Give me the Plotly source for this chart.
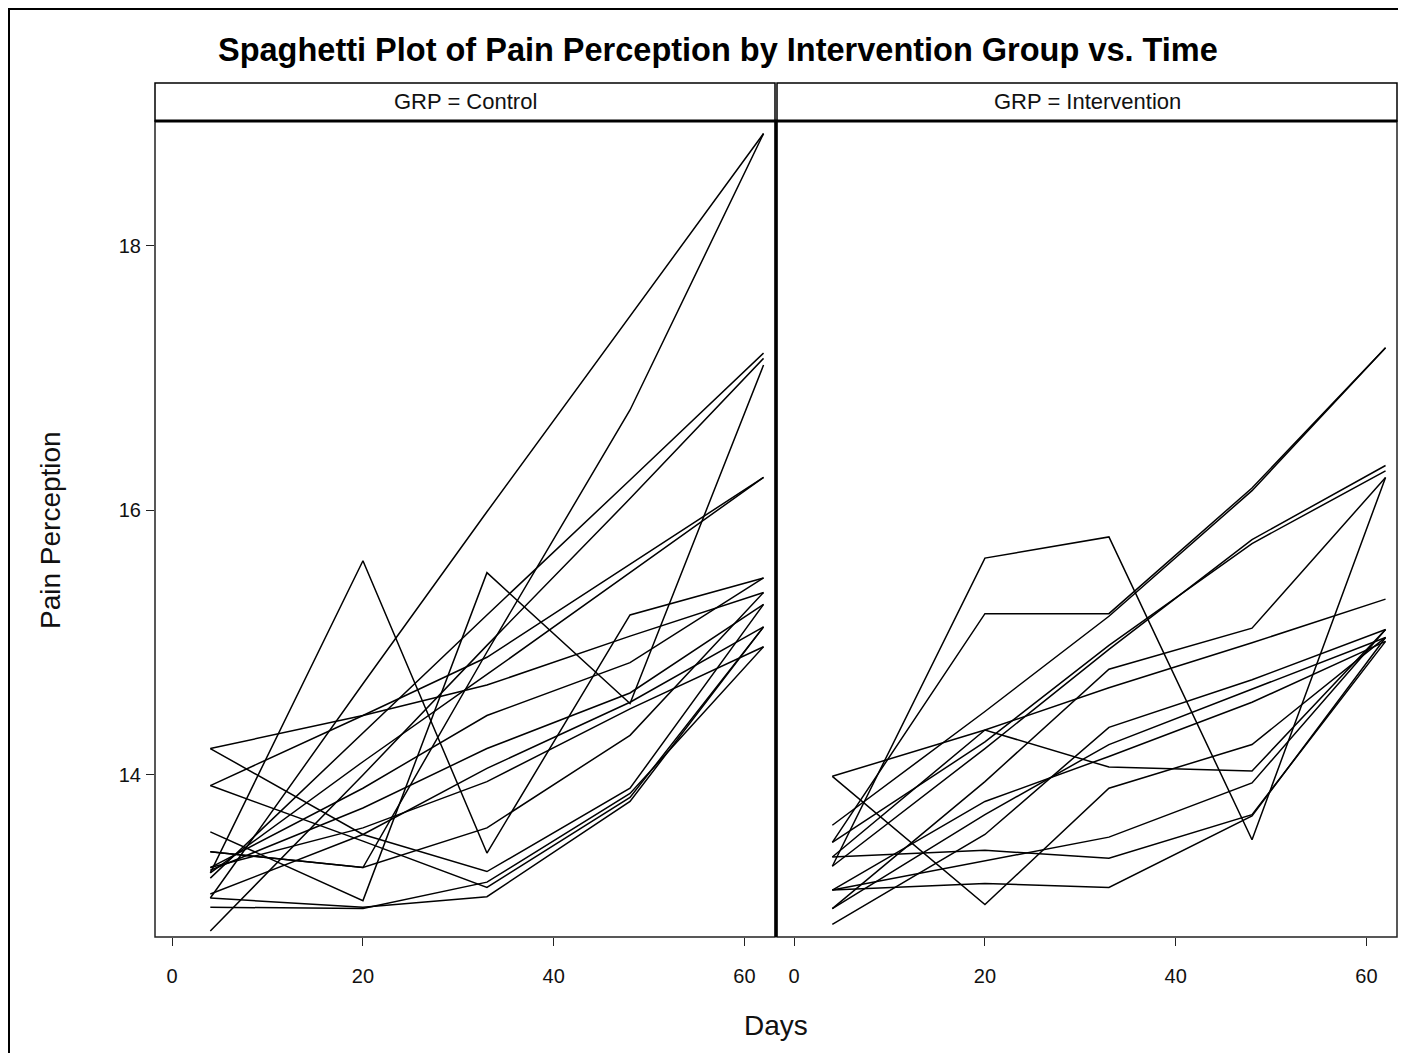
import plotly.graph_objects as go

# ---------------- data ----------------
days = [4, 20, 33, 48, 62]

control = [
    [13.07, 14.69, 15.99, 17.47, 18.85],
    [13.42, 13.30, 14.93, 16.76, 18.85],
    [13.57, 13.05, 15.53, 14.54, 17.10],
    [13.26, 15.62, 13.41, 15.21, 15.49],
    [13.22, 14.32, 15.21, 16.23, 17.19],
    [12.82, 14.00, 14.98, 16.09, 17.15],
    [13.26, 14.10, 14.76, 15.53, 16.25],
    [13.92, 14.45, 14.89, 15.59, 16.25],
    [14.20, 14.45, 14.68, 15.05, 15.38],
    [14.20, 13.55, 13.27, 13.90, 15.29],
    [13.92, 13.50, 13.15, 13.83, 15.12],
    [13.07, 13.00, 13.08, 13.80, 15.12],
    [13.00, 12.99, 13.19, 13.86, 14.97],
    [13.42, 13.30, 13.60, 14.30, 15.38],
    [13.28, 13.75, 14.20, 14.62, 15.29],
    [13.30, 13.90, 14.45, 14.85, 15.49],
    [13.10, 13.55, 14.05, 14.55, 15.12],
    [13.30, 13.60, 13.95, 14.50, 14.97],
]

intervention = [
    [13.62, 14.48, 15.20, 16.15, 17.23],
    [13.49, 15.22, 15.22, 16.17, 17.23],
    [13.31, 15.64, 15.80, 13.51, 16.25],
    [13.31, 14.20, 14.95, 15.78, 16.34],
    [13.49, 14.25, 14.98, 15.75, 16.30],
    [12.99, 13.95, 14.80, 15.11, 16.25],
    [13.99, 14.34, 14.66, 15.00, 15.33],
    [13.38, 14.34, 14.06, 14.03, 15.10],
    [13.99, 13.02, 13.90, 14.23, 15.04],
    [13.38, 13.43, 13.37, 13.70, 15.01],
    [13.13, 13.18, 13.15, 13.69, 15.04],
    [13.13, 13.35, 13.53, 13.94, 15.10],
    [12.87, 13.55, 14.36, 14.72, 15.10],
    [12.99, 13.70, 14.23, 14.65, 15.04],
    [13.13, 13.80, 14.14, 14.55, 15.01],
]

panel_labels = ["GRP = Control", "GRP = Intervention"]
x_ticks = [0, 20, 40, 60]
y_ticks = [14, 16, 18]

title_text = "Spaghetti Plot of Pain Perception by Intervention Group vs. Time"
x_title = "Days"
y_title = "Pain Perception"

# ---------------- layout geometry (page pixels, page has 8px body margin) ----------------
OFF = 8
W, H = 1406 - 2 * OFF, 1061 - 2 * OFF
L, R, T, B = 155 - OFF, 1397 - OFF, 121 - OFF, 937 - OFF
PW, PH = R - L, B - T
SPLIT_L, SPLIT_R = 775 - OFF, 777 - OFF


def px(x):
    return (x - OFF - L) / PW


def py(y):
    return (B - (y - OFF)) / PH


FONT = "Liberation Sans, Arial, sans-serif"

fig = go.Figure()

for subj in control:
    fig.add_trace(go.Scatter(x=days, y=subj, mode="lines", xaxis="x", yaxis="y",
                             line=dict(color="black", width=1.5), showlegend=False,
                             hoverinfo="skip"))
for subj in intervention:
    fig.add_trace(go.Scatter(x=days, y=subj, mode="lines", xaxis="x2", yaxis="y",
                             line=dict(color="black", width=1.5), showlegend=False,
                             hoverinfo="skip"))

xr = [-1.8, 63.2]
axis_common = dict(range=xr, tickvals=x_ticks, ticks="outside", ticklen=8,
                   tickcolor="#222", tickwidth=1, showgrid=False, zeroline=False,
                   showline=False, tickfont=dict(family=FONT, size=20, color="#111"),
                   ticklabelstandoff=13)

fig.update_layout(
    width=W, height=H,
    margin=dict(l=L, r=W - R, t=T, b=H - B),
    paper_bgcolor="white", plot_bgcolor="white",
    xaxis=dict(domain=[0, (SPLIT_L - L) / PW], anchor="y", **axis_common),
    xaxis2=dict(domain=[(SPLIT_R - L) / PW, 1], anchor="y", **axis_common),
    yaxis=dict(domain=[0, 1], range=[12.775, 18.945], tickvals=y_ticks, ticks="outside",
               ticklen=8, tickcolor="#222", tickwidth=1, showgrid=False, zeroline=False,
               showline=False, tickfont=dict(family=FONT, size=20, color="#111"),
               ticklabelstandoff=1),
)

shapes = []
# outer frame (left and top visible) — placed just inside the figure
shapes.append(dict(type="rect", xref="paper", yref="paper",
                   x0=px(9), x1=px(1430), y0=py(1090), y1=py(9),
                   line=dict(color="black", width=2), layer="above"))
# panel borders and header boxes
for x0, x1 in [(155, 775), (777, 1397)]:
    shapes.append(dict(type="rect", xref="paper", yref="paper",
                       x0=px(x0), x1=px(x1), y0=0, y1=1,
                       line=dict(color="#222", width=1.5), layer="above"))
    shapes.append(dict(type="rect", xref="paper", yref="paper",
                       x0=px(x0), x1=px(x1), y0=1, y1=py(83),
                       line=dict(color="black", width=1.5), layer="above"))
# thick header bottom line
shapes.append(dict(type="line", xref="paper", yref="paper",
                   x0=0, x1=1, y0=py(121), y1=py(121),
                   line=dict(color="black", width=3), layer="above"))
# thick separator between panels
shapes.append(dict(type="line", xref="paper", yref="paper",
                   x0=px(776), x1=px(776), y0=0, y1=py(121),
                   line=dict(color="black", width=3), layer="above"))

annotations = [
    dict(text="<b>" + title_text + "</b>", xref="paper", yref="paper", x=px(718), y=py(50),
         showarrow=False, xanchor="center", yanchor="middle",
         font=dict(family=FONT, size=32.5, color="black")),
    dict(text=panel_labels[0], xref="paper", yref="paper", x=px(465),
         y=py(101), showarrow=False, xanchor="center", yanchor="middle",
         font=dict(family=FONT, size=22, color="#111")),
    dict(text=panel_labels[1], xref="paper", yref="paper", x=px(1087),
         y=py(101), showarrow=False, xanchor="center", yanchor="middle",
         font=dict(family=FONT, size=22, color="#111")),
    dict(text=x_title, xref="paper", yref="paper", x=px(776), y=py(1025),
         showarrow=False, xanchor="center", yanchor="middle",
         font=dict(family=FONT, size=28, color="#111")),
    dict(text=y_title, xref="paper", yref="paper", x=px(50), y=py(530),
         showarrow=False, xanchor="center", yanchor="middle", textangle=-90,
         font=dict(family=FONT, size=28, color="#111")),
]

fig.update_layout(shapes=shapes, annotations=annotations)
fig.write_html("out.html")
